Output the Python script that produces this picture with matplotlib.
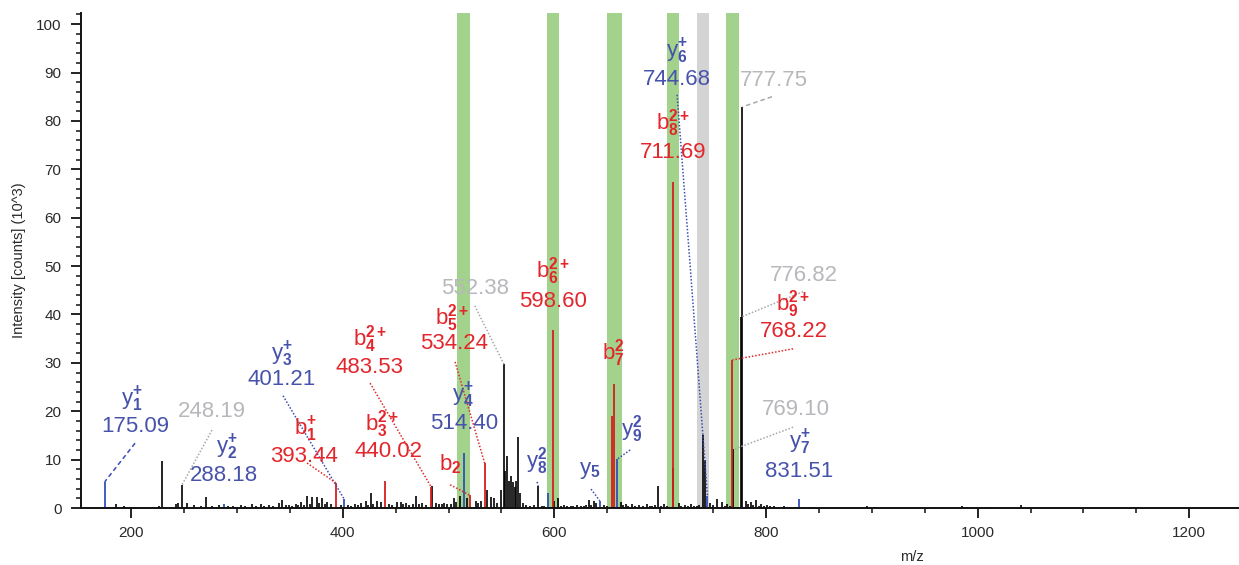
import matplotlib
matplotlib.use("Agg")
import matplotlib.pyplot as plt
from matplotlib.ticker import MultipleLocator
from matplotlib import font_manager as fm

# ---------------- data ----------------
# unlabeled / labeled black peaks (m/z, intensity x10^3)
black_mz = [185.5, 193.3, 200.9, 215.1, 226.4, 229.5, 242.2, 244.6, 248.19, 252.9,
            259.5, 265.8, 270.5, 276.5, 283.1, 292.0, 296.0, 300.0, 304.0, 308.0,
            314.6, 318.0, 322.5, 326.0, 330.0, 334.0, 339.8, 342.9, 346.0, 349.3,
            352.0, 355.9, 358.0, 360.6, 363.0, 366.3, 369.0, 371.0, 375.7, 378.0,
            380.4, 383.0, 385.2, 389.0, 398.0, 405.0, 408.0, 411.6, 414.0, 417.3,
            421.7, 424.0, 426.5, 429.0, 432.7, 435.9, 444.0, 447.0, 451.6, 454.8,
            457.0, 460.1, 463.0, 466.0, 469.6, 472.0, 475.2, 479.0, 484.7, 488.2,
            491.0, 493.8, 496.0, 498.6, 502.0, 505.2, 507.0, 510.6, 517.8, 525.7,
            528.0, 531.0, 536.4, 539.9, 543.0, 546.1, 549.3, 552.38, 553.4, 555.0,
            557.2, 559.3, 561.2, 562.8, 564.1, 565.7, 567.3, 570.4, 573.2, 577.0,
            580.8, 584.8, 588.3, 590.0, 599.5, 603.5, 606.0, 609.1, 612.0, 615.7,
            618.0, 621.4, 625.0, 628.0, 630.0, 632.8, 635.0, 637.5, 639.4, 646.9,
            650.0, 662.7, 665.0, 667.4, 670.0, 673.7, 676.0, 680.0, 684.0, 687.6,
            690.0, 692.3, 695.0, 698.3, 701.0, 703.6, 706.0, 712.4, 717.8, 720.0,
            723.5, 726.0, 729.1, 732.0, 734.8, 737.0, 740.5, 742.4, 747.1, 750.0,
            754.0, 758.4, 761.0, 763.2, 766.0, 769.10, 776.82, 777.75, 780.9, 783.0,
            785.6, 788.0, 790.3, 793.0, 795.1, 798.0, 801.0, 804.0, 807.6, 812.0,
            817.0, 823.0, 828.0, 836.0, 840.7, 845.0, 895.0, 903.0, 967.6, 985.7,
            1008.5, 1011.7, 1040.6, 1163.0]
black_int = [0.8, 0.4, 0.3, 0.3, 0.5, 9.7, 0.8, 1.0, 4.8, 1.0,
             0.6, 0.5, 2.2, 0.5, 0.6, 0.4, 0.5, 0.3, 0.6, 0.4,
             0.9, 0.5, 0.9, 0.4, 0.6, 0.5, 1.0, 1.6, 0.6, 0.7,
             0.5, 0.8, 0.6, 1.2, 0.7, 2.5, 0.9, 2.2, 2.3, 1.0,
             2.0, 0.8, 1.2, 0.8, 0.6, 0.7, 0.5, 0.8, 0.6, 1.0,
             1.5, 0.7, 3.1, 0.8, 1.5, 1.3, 0.9, 0.7, 1.2, 1.2,
             0.8, 1.1, 0.7, 0.9, 2.4, 0.8, 1.0, 0.7, 4.5, 1.0,
             0.8, 0.8, 1.1, 0.9, 0.9, 2.1, 1.2, 2.5, 2.1, 1.5,
             1.0, 1.4, 3.8, 2.3, 2.0, 1.0, 3.7, 29.7, 7.7, 10.8,
             5.6, 6.7, 5.3, 4.3, 5.6, 14.7, 3.2, 1.0, 0.7, 0.5,
             0.6, 4.6, 0.5, 0.4, 1.5, 2.0, 0.5, 0.6, 0.4, 0.5,
             0.4, 0.7, 0.5, 0.5, 0.6, 1.6, 0.7, 1.4, 1.0, 0.7,
             0.5, 1.2, 0.6, 0.8, 0.5, 0.8, 0.4, 0.6, 0.5, 0.8,
             0.4, 0.5, 0.6, 4.5, 0.5, 0.8, 0.5, 8.3, 1.0, 0.5,
             0.6, 0.5, 0.8, 0.4, 0.5, 0.6, 15.0, 9.9, 1.0, 0.6,
             1.9, 1.2, 0.5, 0.8, 0.5, 12.1, 39.5, 82.9, 1.5, 0.8,
             1.2, 0.6, 1.6, 0.5, 0.8, 0.4, 0.6, 0.4, 0.4, 0.3,
             0.4, 0.3, 0.3, 0.3, 0.3, 0.3, 0.4, 0.3, 0.3, 0.5,
             0.3, 0.3, 0.7, 0.3]

blue_mz = [175.09, 288.18, 401.21, 514.40, 594.3, 642.9, 659.5, 744.68, 831.51]
blue_int = [5.4, 0.8, 1.9, 11.4, 3.2, 1.5, 10.1, 2.5, 1.9]

red_mz = [393.44, 440.02, 483.53, 520.5, 534.24, 598.60, 654.8, 656.1, 711.69, 768.22]
red_int = [5.2, 5.5, 4.4, 2.6, 9.2, 36.8, 19.0, 25.7, 67.4, 30.6]

# highlighted m/z windows (center, width, kind)
band_mz = [514.2, 598.8, 656.9, 712.2, 740.5, 768.4]
band_width = [12.3, 11.3, 14.2, 11.3, 11.3, 12.3]
band_kind = ["g", "g", "g", "g", "x", "g"]

# annotations: (ion letter, subscript, superscript, number text, color, target m/z, target intensity)
annotations = [
    ("y", "1", "+", "175.09", "blue", 175.09, 5.4),
    ("", "", "", "248.19", "gray", 248.19, 4.8),
    ("y", "2", "+", "288.18", "blue", 288.18, 0.8),
    ("y", "3", "+", "401.21", "blue", 401.21, 1.9),
    ("b", "1", "+", "393.44", "red", 393.44, 5.2),
    ("b", "4", "2+", "483.53", "red", 483.53, 4.4),
    ("b", "3", "2+", "440.02", "red", 440.02, 5.5),
    ("b", "2", "", "", "red", 520.5, 2.6),
    ("y", "4", "+", "514.40", "blue", 514.40, 11.4),
    ("b", "5", "2+", "534.24", "red", 534.24, 9.2),
    ("", "", "", "552.38", "gray", 552.38, 29.7),
    ("b", "6", "2+", "598.60", "red", 598.60, 36.8),
    ("y", "8", "2", "", "blue", 584.8, 4.6),
    ("y", "5", "", "", "blue", 642.9, 1.5),
    ("b", "7", "2", "", "red", 656.1, 25.7),
    ("y", "9", "2", "", "blue", 659.5, 10.1),
    ("b", "8", "2+", "711.69", "red", 711.69, 67.4),
    ("y", "6", "+", "744.68", "blue", 744.68, 2.5),
    ("", "", "", "777.75", "gray", 777.75, 82.9),
    ("", "", "", "776.82", "gray", 776.82, 39.5),
    ("b", "9", "2+", "768.22", "red", 768.22, 30.6),
    ("", "", "", "769.10", "gray", 769.10, 12.1),
    ("y", "7", "+", "831.51", "blue", 831.51, 1.9),
]

# ---------------- layout (label placement in data coords) ----------------
# ion-label position, number position, leader start (+ optional via point)
label_pos = [
    ((200.7, 22.4), (203.8, 16.8), [(203.8, 13.4)]),
    (None, (276.3, 19.9), [(276.5, 16.1)]),
    ((290.4, 12.5), (287.9, 6.8), None),
    ((342.4, 31.8), (342.4, 26.5), [(343.6, 23.2)]),
    ((364.4, 16.3), (363.5, 10.6), [(366.3, 9.3)]),
    ((425.9, 34.9), (425.2, 29.1), [(425.9, 25.8)]),
    ((436.9, 17.4), (442.9, 11.6), None),
    ((501.5, 9.0), None, [(501.5, 4.8)]),
    ((513.7, 23.2), (514.7, 17.4), None),
    ((503.3, 39.2), (505.2, 33.9), [(506.2, 30.2)]),
    (None, (525.5, 45.3), [(524.8, 41.8)]),
    ((598.9, 48.9), (598.9, 42.7), None),
    ((583.7, 9.6), None, [(583.7, 5.4)]),
    ((633.8, 7.7), None, [(634.7, 3.9)]),
    ((655.5, 32.1), None, None),
    ((673.4, 16.4), None, [(671.6, 12.0)]),
    ((712.2, 79.5), (712.2, 73.4), None),
    ((716.0, 94.3), (716.0, 88.6), [(716.0, 85.4), (728.3, 50.2)]),
    (None, (807.6, 88.3), [(805.7, 85.0)]),
    (None, (836.0, 48.0), [(835.0, 44.7)]),
    ((825.6, 42.2), (826.5, 36.4), [(825.6, 32.9)]),
    (None, (828.4, 20.3), [(825.6, 16.7)]),
    ((832.2, 13.5), (831.3, 7.6), None),
]

text_colors = {"blue": "#4753aa", "red": "#e3262c", "gray": "#b8b8bc"}
line_colors = {"blue": "#3a4db4", "red": "#e02a2a", "gray": "#a8a8a8"}
peak_colors = {"black": "#000000", "blue": "#3550b8", "red": "#d42020"}
band_colors = {"g": "#a2d28b", "x": "#d4d4d4"}

# ---------------- fonts ----------------
names = {f.name for f in fm.fontManager.ttflist}
if "Liberation Sans Narrow" in names:
    lab_family, lab_size = "Liberation Sans Narrow", 19
else:
    lab_family, lab_size = "Liberation Sans", 16
plt.rcParams["font.family"] = ["Liberation Sans", "DejaVu Sans"]
plt.rcParams["mathtext.fontset"] = "custom"
plt.rcParams["mathtext.rm"] = lab_family
plt.rcParams["mathtext.bf"] = lab_family + ":bold"
plt.rcParams["mathtext.it"] = lab_family + ":italic"

# ---------------- figure ----------------
fig = plt.figure(figsize=(12.39, 5.65), dpi=100)
ax = fig.add_axes([81 / 1239, (565 - 508) / 565, (1239 - 81) / 1239, (508 - 13) / 565])
ax.set_xlim(152.7, 1247)
ax.set_ylim(0, 102.3)

for c, w, k in zip(band_mz, band_width, band_kind):
    ax.axvspan(c - w / 2, c + w / 2, ymin=0, ymax=1, color=band_colors[k], lw=0, zorder=0)

ax.vlines(black_mz, 0, black_int, colors=peak_colors["black"], lw=1.2, zorder=2)
ax.vlines(blue_mz, 0, blue_int, colors=peak_colors["blue"], lw=1.3, zorder=2)
ax.vlines(red_mz, 0, red_int, colors=peak_colors["red"], lw=1.3, zorder=2)


def ion_text(letter, sub, sup):
    s = r"\mathregular{%s}_{\mathbf{%s}}" % (letter, sub)
    if sup:
        s += r"^{\mathbf{%s}}" % sup
    return "$" + s + "$"


for ann, pos in zip(annotations, label_pos):
    letter, sub, sup, num, col, tmz, tint = ann
    ipos, npos, lead = pos
    if letter and ipos is not None:
        ax.text(ipos[0], ipos[1], ion_text(letter, sub, sup), color=text_colors[col],
                fontsize=lab_size, family=lab_family, ha="center", va="center", zorder=5)
    if num and npos is not None:
        ax.text(npos[0], npos[1], num, color=text_colors[col], fontsize=lab_size,
                family=lab_family, ha="center", va="center", zorder=5)
    if lead:
        xs = [p[0] for p in lead] + [tmz]
        ys = [p[1] for p in lead] + [tint]
        ls = (0, (3, 2)) if num in ("175.09", "777.75") else (0, (1, 1.2))
        ax.plot(xs, ys, color=line_colors[col], lw=1.1, ls=ls, zorder=4)

# axes styling
for s in ("top", "right"):
    ax.spines[s].set_visible(False)
for s in ("left", "bottom"):
    ax.spines[s].set_linewidth(1.4)
    ax.spines[s].set_color("#111111")

ax.xaxis.set_major_locator(MultipleLocator(200))
ax.xaxis.set_minor_locator(MultipleLocator(50))
ax.yaxis.set_major_locator(MultipleLocator(10))
ax.yaxis.set_minor_locator(MultipleLocator(2))
ax.tick_params(axis="both", which="major", direction="out", length=7, width=1.3,
               labelsize=11, labelcolor="#2a2a2a", color="#111111")
ax.tick_params(axis="both", which="minor", direction="out", length=3.5, width=1.1, color="#111111")
ax.tick_params(axis="y", which="major", pad=7)
ax.tick_params(axis="x", which="major", pad=6)

fig.text(19 / 1239, 1 - 260 / 565, "Intensity [counts] (10^3)", rotation=90,
         ha="center", va="center", fontsize=10.5, color="#2a2a2a")
fig.text(912 / 1239, 1 - 557 / 565, "m/z", ha="center", va="center",
         fontsize=10.5, color="#2a2a2a")

fig.savefig("out.png", dpi=100)
